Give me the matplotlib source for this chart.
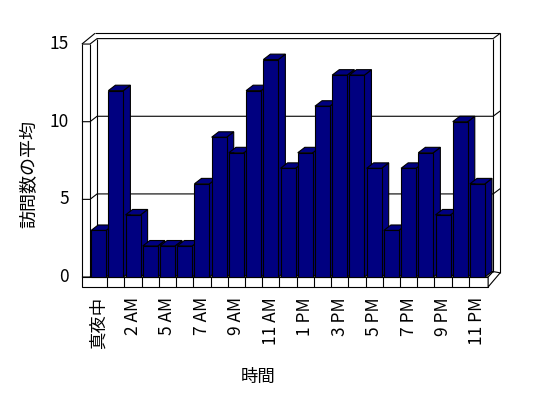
import matplotlib
matplotlib.use('Agg')
import matplotlib.pyplot as plt
from matplotlib.patches import Polygon

plt.rcParams['font.family'] = ['Noto Sans CJK JP', 'DejaVu Sans']

# データ
hours = ['真夜中', '1 AM', '2 AM', '4 AM', '5 AM', '6 AM', '7 AM', '8 AM', '9 AM',
         '10 AM', '11 AM', '12 PM', '1 PM', '2 PM', '3 PM', '4 PM', '5 PM', '6 PM',
         '7 PM', '8 PM', '9 PM', '10 PM', '11 PM']
visits = [3, 12, 4, 2, 2, 2, 6, 9, 8, 12, 14, 7, 8, 11, 13, 13, 7, 3, 7, 8, 4, 10, 6]
yticks = [0, 5, 10, 15]

navy = '#000080'
lw = 0.8
w = 0.87        # 棒の幅
dx, dy = 0.41, 0.35   # 奥行き
tL = 0.47       # 左の壁の厚み
tF = 0.64       # 床の厚み
tB = 0.41       # 奥の壁の厚み(横)
tT = 0.34       # 奥の壁の厚み(上)
ymax = yticks[-1]

fig = plt.figure(figsize=(5.48, 3.98), dpi=100)
ax = fig.add_axes([0, 0, 1, 1])
ax.set_xlim(-5.727, 26.097)
ax.set_ylim(-7.79, 17.836)
ax.axis('off')

n = len(visits)
x0, x1 = -0.5, n - 0.5
xFR = x1 + 0.12
xRo = x1 + dx + tB
xLo = x0 - tL
topO = ymax + dy + tT


def line(xs, ys, z=1):
    ax.plot(xs, ys, color='black', lw=lw, zorder=z, solid_capstyle='butt')


# 床と壁
ax.add_patch(Polygon([(x0, 0), (xFR, 0), (x1 + dx, dy), (x0 + dx, dy)],
                     closed=True, fc='white', ec='black', lw=lw, zorder=1))
ax.add_patch(Polygon([(xLo, -tF), (xFR, -tF), (xFR, 0), (xLo, 0)],
                     closed=True, fc='white', ec='black', lw=lw, zorder=1))
for k in range(1, n):
    line([x0 + k, x0 + k], [-tF, 0])
ax.add_patch(Polygon([(xFR, 0), (xFR, -tF), (xRo, dy - 0.08), (x1 + dx, dy)],
                     closed=True, fc='white', ec='black', lw=lw, zorder=1))
# 左の壁
line([xLo, xLo], [0, ymax])
line([x0, x0], [0, ymax])
line([xLo, xLo + 0.76], [ymax, topO])
# 奥の壁
line([x0 + dx, x0 + dx], [dy, ymax + dy])
line([x1 + dx, x1 + dx], [dy, ymax + dy])
line([xLo + 0.76, xRo], [topO, topO])
line([xRo, xRo], [dy - 0.08, topO])
line([x1 + dx, xRo], [ymax + dy, topO])
# 目盛線
for v in yticks:
    line([xLo, x0, x0 + dx, x1 + dx], [v, v, v + dy, v + dy], z=1.5)
    if 0 < v < ymax:
        line([x1 + dx, xRo], [v + dy, v + dy + tT], z=1.5)
    ax.text(xLo - 0.75, v, str(v), ha='right', va='center', fontsize=12.5)

# 棒
for i, v in enumerate(visits):
    l, r = i - w / 2, i + w / 2
    z = 3 + i * 0.01
    ax.add_patch(Polygon([(r, 0), (r + dx, dy), (r + dx, v + dy), (r, v)],
                         closed=True, fc=navy, ec='black', lw=lw, zorder=z))
    ax.add_patch(Polygon([(l, v), (r, v), (r + dx, v + dy), (l + dx, v + dy)],
                         closed=True, fc=navy, ec='black', lw=lw, zorder=z))
    ax.add_patch(Polygon([(l, 0), (r, 0), (r, v), (l, v)],
                         closed=True, fc=navy, ec='black', lw=lw, zorder=z))

for i in range(0, n, 2):
    ax.text(i, -tF - 0.64, hours[i], rotation=90, ha='center', va='top', fontsize=12.5)

ax.text(-4.04, 6.63, '訪問数の平均', rotation=90, ha='center', va='center', fontsize=13)
ax.text(9.26, -6.44, '時間', ha='center', va='center', fontsize=12.5)

fig.savefig('out.png', dpi=100)
